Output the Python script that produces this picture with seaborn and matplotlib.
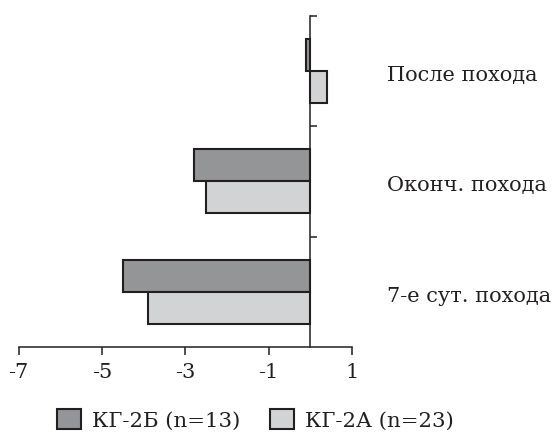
import matplotlib
matplotlib.use("Agg")
import matplotlib.pyplot as plt
import matplotlib.transforms as mtransforms
import seaborn as sns
import pandas as pd
from matplotlib.patches import Patch

categories = ["После похода", "Оконч. похода", "7-е сут. похода"]
groups = ["КГ-2Б (n=13)", "КГ-2А (n=23)"]
values_2b = [-0.1, -2.8, -4.5]
values_2a = [0.4, -2.5, -3.9]
xticks = [-7, -5, -3, -1, 1]

colors = ["#939598", "#d1d3d4"]
edge = "#231f20"

df = pd.DataFrame({
    "cat": categories * 2,
    "group": [groups[0]] * 3 + [groups[1]] * 3,
    "val": values_2b + values_2a,
})

sns.set_theme(style="white")
plt.rcParams["font.family"] = ["DejaVu Serif"]
plt.rcParams["axes.unicode_minus"] = False

fig = plt.figure(figsize=(5.53, 4.33), dpi=100)
ax = fig.add_axes([18.5 / 553, 1 - 347 / 433, (352 - 18.5) / 553, (347 - 15.7) / 433])

sns.barplot(data=df, x="val", y="cat", hue="group", order=categories,
            hue_order=groups, palette=colors, orient="h", width=0.58,
            edgecolor=edge, linewidth=1.5, ax=ax, legend=False, errorbar=None)

ax.set_xlim(-7, 1)
ax.set_ylim(2.5, -0.5)
ax.set_xticks(xticks)
ax.set_xticklabels([str(t) for t in xticks])
ax.set_xlabel("")
ax.set_ylabel("")

for s in ["top", "right"]:
    ax.spines[s].set_visible(False)
ax.spines["left"].set_position(("data", 0))
for s in ["left", "bottom"]:
    ax.spines[s].set_color(edge)
    ax.spines[s].set_linewidth(1.1)

ax.tick_params(axis="x", which="major", bottom=True, direction="out", length=5.5,
               width=1.1, color=edge, labelsize=15, pad=6, labelcolor="#231f20")

ax.set_yticks(range(len(categories)))
ax.set_yticklabels(categories)
ax.tick_params(axis="y", which="major", left=False, right=False, length=0,
               labelleft=False, labelright=True, labelsize=15, pad=25,
               labelcolor="#231f20")
shift = mtransforms.ScaledTranslation(0, -2.5 / 100, fig.dpi_scale_trans)
for tick in ax.yaxis.get_major_ticks():
    tick.label2.set_transform(tick.label2.get_transform() + shift)
ax.set_yticks([-0.5, 0.5, 1.5], minor=True)
ax.tick_params(axis="y", which="minor", left=True, right=False, direction="in",
               length=5, width=1.1, color=edge)

handles = [Patch(facecolor=c, edgecolor=edge, linewidth=1.5) for c in colors]
fig.legend(handles, groups, loc="center", bbox_to_anchor=(255 / 553, 1 - 420 / 433),
           bbox_transform=fig.transFigure, ncol=2, frameon=False, fontsize=15.3,
           handlelength=1.15, handleheight=1.05, handletextpad=0.5,
           columnspacing=1.4, borderpad=0, labelcolor="#231f20")

fig.savefig("out.png", dpi=100)
